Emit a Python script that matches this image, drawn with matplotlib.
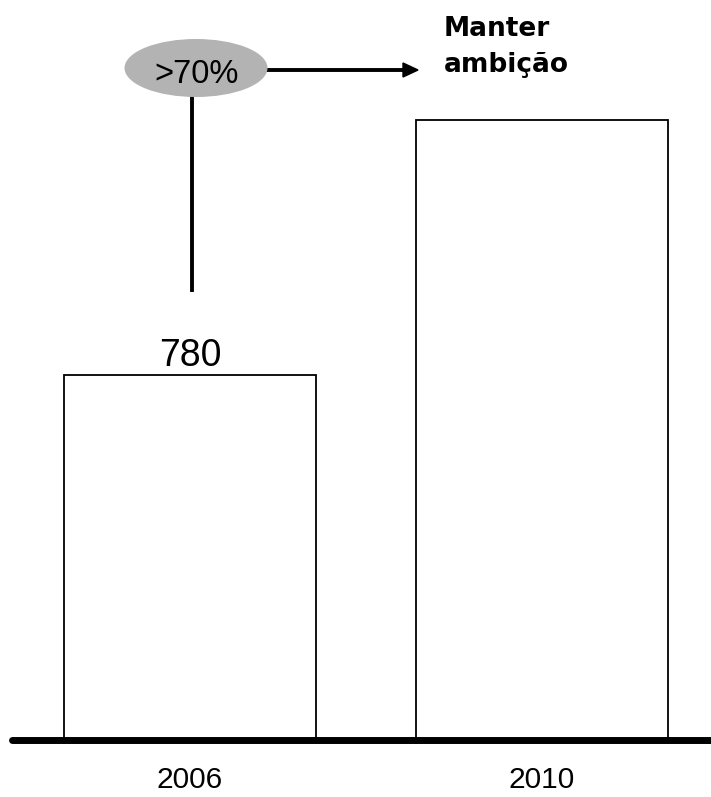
import matplotlib
matplotlib.use("Agg")
import matplotlib.pyplot as plt
from matplotlib.patches import Ellipse

anos = ["2006", "2010"]
valores = [780, 1326]
rotulo_barra = "780"
crescimento = ">70%"
mensagem = ["Manter", "ambição"]

W, H = 711, 797
fig = plt.figure(figsize=(W / 100, H / 100), dpi=100)

# eixo: base em y=740 px, 780 -> topo em y=375 px
px_por_unidade = 365 / 780
ax = fig.add_axes([0, (H - 740) / H, 1, 740 / H])
ax.set_ylim(0, 740 / px_por_unidade)
ax.set_xlim(-190 / 352, (W - 190) / 352)
ax.axis("off")

x = range(len(anos))
ax.bar(x, valores, width=252 / 352, color="white", edgecolor="black", linewidth=1.3, zorder=2)

# linha de base
fig.add_artist(plt.Line2D([12 / W, 1.0], [(H - 740) / H] * 2, color="black", lw=5,
                          solid_capstyle="round", zorder=5))

fonte = ["Liberation Sans", "DejaVu Sans"]
for xi, ano in zip(x, anos):
    ax.annotate(ano, (xi, 0), xytext=(0, -48 * 0.72), textcoords="offset points",
                ha="center", va="baseline", fontsize=21.5, family=fonte,
                annotation_clip=False)

ax.annotate(rotulo_barra, (0, valores[0]), xytext=(0, 9 * 0.72), textcoords="offset points",
            ha="center", va="baseline", fontsize=27, family=fonte)


def fx(px):
    return px / W


def fy(py):
    return (H - py) / H


# elipse com crescimento
ell = Ellipse((fx(196), fy(68)), 143 / W, 58 / H, transform=fig.transFigure,
              facecolor="#b3b3b3", edgecolor="none", zorder=4)
fig.add_artist(ell)
fig.text(fx(197), fy(83), crescimento, ha="center", va="baseline", fontsize=23.5,
         family=fonte, zorder=6)

# linha vertical
fig.add_artist(plt.Line2D([fx(192), fx(192)], [fy(97), fy(290)], color="black", lw=2.8, zorder=3))

# seta
fig.add_artist(plt.Line2D([fx(268), fx(405)], [fy(70), fy(70)], color="black", lw=2.8, zorder=3))
fig.add_artist(plt.Polygon([[fx(403), fy(63)], [fx(418), fy(70)], [fx(403), fy(77)]],
                           closed=True, transform=fig.transFigure, color="black", zorder=3))

for linha, base in zip(mensagem, [36, 72]):
    fig.text(fx(444), fy(base), linha, ha="left", va="baseline", fontsize=19,
             fontweight="bold", family="DejaVu Sans")

fig.savefig("out.png", dpi=100)
